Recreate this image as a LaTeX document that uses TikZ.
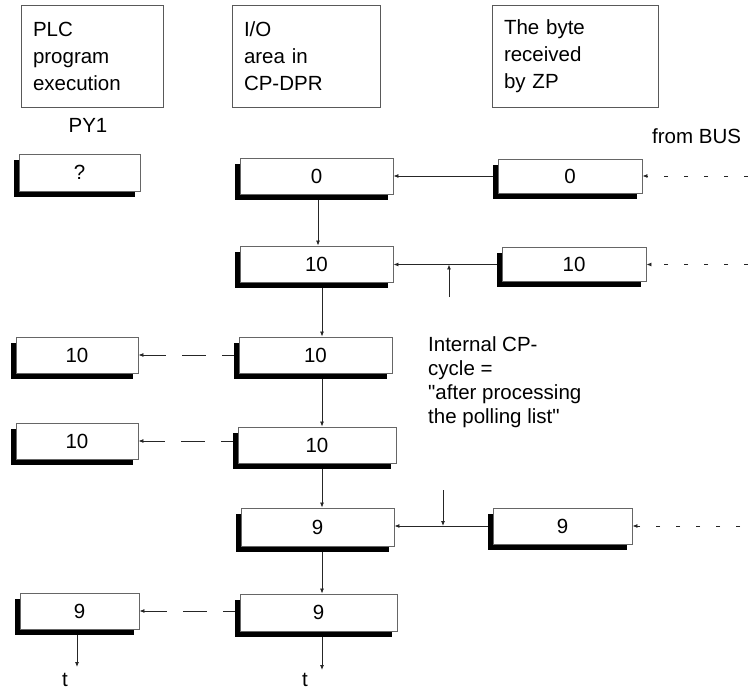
\documentclass[tikz,border=0pt]{standalone}
\usepackage{fontspec}
\setmainfont{Liberation Sans}[Ligatures=TeXOff]
\usetikzlibrary{arrows.meta,shadows,calc}

\begin{document}
\begin{tikzpicture}[x=1pt,y=-1pt,
  every node/.style={font=\fontsize{20.5}{27}\selectfont, text=black},
  hdr/.style={draw=black!65, line width=0.9pt, align=left, inner xsep=12pt,
    inner ysep=0pt, minimum height=102pt},
  val/.style={draw=black!60, fill=white, line width=0.9pt, inner sep=0pt,
    minimum height=36pt,
    general shadow={fill=black, shadow xshift=-5pt, shadow yshift=-6pt}},
  iobox/.style={val, minimum width=153pt},
  pbox/.style={val, minimum width=121pt},
  zbox/.style={val, minimum width=144pt, minimum height=34pt},
  arr/.style={draw=black!85, line width=0.8pt, -{Latex[length=5pt,width=4pt]}},
  copyline/.style={arr, dash pattern=on 24pt off 16pt, dash phase=12pt},
  busline/.style={arr, dash pattern=on 4pt off 16pt},
  lbl/.style={inner sep=0pt}
]
\useasboundingbox (0,0) rectangle (748,690);
\fill[white] (0,0) rectangle (748,690);

% column headings
\node[hdr, text width=118pt] (plc) at (92,56) {PLC\\program\\execution};
\node[hdr, text width=124pt] (dpr) at (306,56) {I/O\\area in\\CP-DPR};
\node[hdr, text width=142pt] (zp)  at (575,56) {The byte\\received\\by ZP};

\node[lbl, anchor=base] (py) at (88,133) {PY1};
\node[lbl, anchor=base west] (frombus) at (652,144) {from BUS};

% byte values
\node[pbox, minimum height=37pt] (q) at (79.5,172.5) {?};
\node[iobox] (io0) at (316.5,176) {0};
\node[zbox] (b0) at (570,176) {0};

\node[iobox] (io1) at (316.5,264) {10};
\node[zbox] (b1) at (574,264.5) {10};

\node[pbox, minimum width=122pt] (l1) at (77,355) {10};
\node[iobox] (io2) at (315.5,355) {10};

\node[pbox, minimum width=122pt] (l2) at (77,441) {10};
\node[iobox, minimum width=158pt] (io3) at (317,445) {10};

\node[iobox, minimum height=38pt] (io4) at (317.5,527) {9};
\node[zbox, minimum width=139pt, minimum height=36pt] (b2) at (562.5,526) {9};

\node[pbox, minimum width=119pt] (l3) at (79.5,611) {9};
\node[iobox, minimum width=157pt, minimum height=37pt] (io5) at (318.5,612.5) {9};

\node[lbl, anchor=north west, align=left, font=\fontsize{20.5}{24.3}\selectfont]
  (note) at (428,336) {Internal CP-\\cycle =\\"after processing\\the polling list"};

% vertical flow through the DPR
\coordinate (v0) at (318,0);
\coordinate (v1) at (322,0);
\draw[arr] ($(io0.south -| v0)+(0,6)$) -- (io1.north -| v0);
\draw[arr] ($(io1.south -| v1)+(0,6)$) -- (io2.north -| v1);
\draw[arr] ($(io2.south -| v1)+(0,6)$) -- (io3.north -| v1);
\draw[arr] ($(io3.south -| v1)+(0,6)$) -- (io4.north -| v1);
\draw[arr] ($(io4.south -| v1)+(0,6)$) -- (io5.north -| v1);

% time axes
\coordinate (t1) at (77,667);
\coordinate (t2) at (322,670);
\draw[arr] ($(l3.south -| t1)+(0,6)$) -- (t1);
\draw[arr] ($(io5.south -| t2)+(0,6)$) -- (t2);
\node[lbl, anchor=base] (tl) at (65,686.5) {t};
\node[lbl, anchor=base] (tr) at (305,686.5) {t};

% ZP -> DPR transfers
\draw[arr] ($(b0.west)+(-5,0)$) -- (io0.east |- b0.west);
\draw[arr] ($(b1.west)+(-5,0)$) -- (io1.east |- b1.west);
\draw[arr] ($(b2.west)+(-5,0)$) -- (io4.east |- b2.west);

% internal CP cycle markers
\coordinate (u) at (449,297);
\draw[arr] (u) -- (u |- b1.west);
\coordinate (d) at (443,490);
\draw[arr] (d) -- (d |- b2.west);

% DPR -> PLC reads
\draw[copyline] ($(l1.east -| io2.west)+(-5,0)$) -- (l1.east);
\draw[copyline] ($(l2.east -| io3.west)+(-5,0)$) -- (l2.east);
\draw[copyline] ($(l3.east -| io5.west)+(-5,0)$) -- (l3.east);

% bus input
\coordinate (bus0) at (748,176);
\coordinate (bus1) at (748,264.5);
\coordinate (bus2) at (740,526);
\draw[busline] (bus0) -- (b0.east);
\draw[busline] (bus1) -- (b1.east);
\draw[busline] (bus2) -- (b2.east);
\end{tikzpicture}
\end{document}
